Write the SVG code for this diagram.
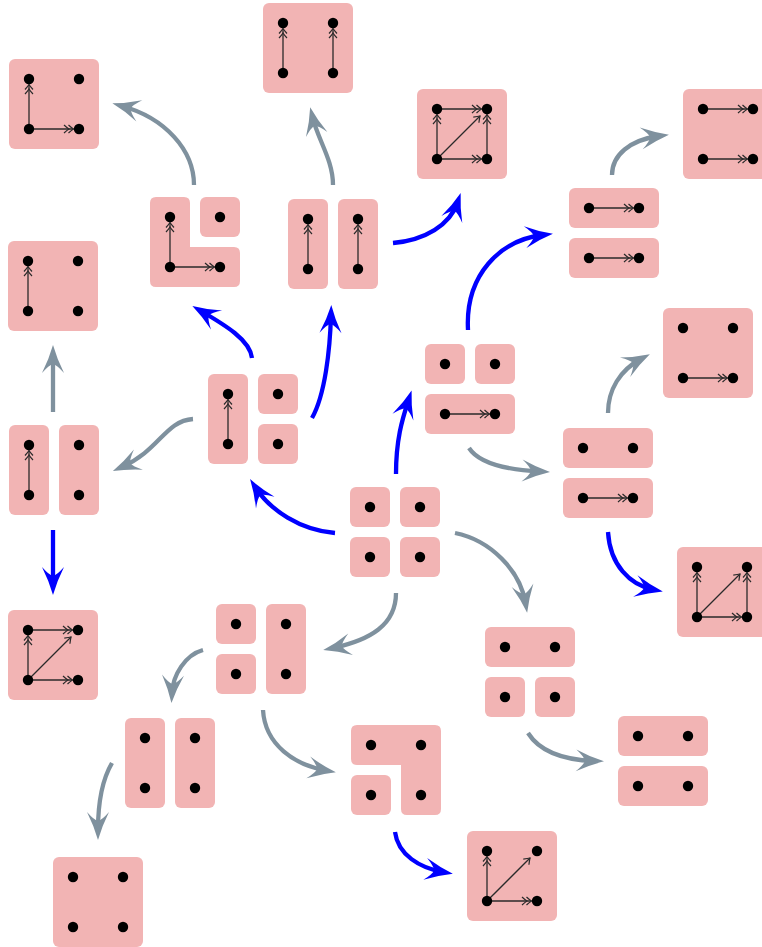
<svg xmlns="http://www.w3.org/2000/svg" xmlns:xlink="http://www.w3.org/1999/xlink" width="762" height="947" viewBox="0 0 762 947">
<style>
.p{fill:#f2b4b4}
.d{fill:#000}
.e{fill:none;stroke:#2a2a2a;stroke-width:1.3}
.dbl{marker-end:url(#dbl)}
.sgl{marker-end:url(#sgl)}
.g{fill:none;stroke:#7f919e;stroke-width:4.3;marker-end:url(#hg)}
.b{fill:none;stroke:#0000ff;stroke-width:4.3;marker-end:url(#hb)}
</style>
<defs>
<marker id="dbl" markerUnits="userSpaceOnUse" viewBox="-12 -6 14 12" markerWidth="14" markerHeight="12" refX="0" refY="0" orient="auto" overflow="visible">
<path d="M-5,-4 Q-2,-1.2 0,0 Q-2,1.2 -5,4 M-9.5,-4 Q-6.5,-1.2 -4.5,0 Q-6.5,1.2 -9.5,4" fill="none" stroke="#2a2a2a" stroke-width="1.2"/>
</marker>
<marker id="sgl" markerUnits="userSpaceOnUse" viewBox="-12 -6 14 12" markerWidth="14" markerHeight="12" refX="0" refY="0" orient="auto" overflow="visible">
<path d="M-5.5,-4 Q-2,-1.2 0,0 Q-2,1.2 -5.5,4" fill="none" stroke="#2a2a2a" stroke-width="1.2"/>
</marker>
<marker id="hg" markerUnits="userSpaceOnUse" viewBox="-24 -14 38 28" markerWidth="38" markerHeight="28" refX="0" refY="0" orient="auto" overflow="visible">
<path d="M10,0 Q-4,-4 -18,-11 Q-10,-4 -9,0 Q-10,4 -18,11 Q-4,4 10,0 Z" fill="#7f919e"/>
</marker>
<marker id="hb" markerUnits="userSpaceOnUse" viewBox="-24 -14 38 28" markerWidth="38" markerHeight="28" refX="0" refY="0" orient="auto" overflow="visible">
<path d="M10,0 Q-4,-4 -18,-11 Q-10,-4 -9,0 Q-10,4 -18,11 Q-4,4 10,0 Z" fill="#0000ff"/>
</marker>
<g id="dots">
<circle class="d" cx="20" cy="20" r="5.2"/>
<circle class="d" cx="70" cy="20" r="5.2"/>
<circle class="d" cx="20" cy="70" r="5.2"/>
<circle class="d" cx="70" cy="70" r="5.2"/>
</g>
</defs>

<g id="connectors">
<path class="g" d="M194,185 C194,150 165,118 122,106"/>
<path class="g" d="M333,185 C333,160 318,140 312.5,117"/>
<path class="g" d="M193,419 C165,421 160,450 122,467"/>
<path class="g" d="M53,412 L53,355"/>
<path class="g" d="M612,175 C612,155 630,140 659,136"/>
<path class="g" d="M608,413 C608,390 620,370 641,359"/>
<path class="g" d="M469,448 C480,465 510,470 540,471.5"/>
<path class="g" d="M455,533 C490,540 520,570 525.5,603"/>
<path class="g" d="M396,593 C396,625 370,640 333,648"/>
<path class="g" d="M203,650 C185,655 173,675 172,693"/>
<path class="g" d="M263,710 C265,745 295,765 326,770.5"/>
<path class="g" d="M112,763 C102,780 98,805 98,830"/>
<path class="g" d="M528,733 C540,752 565,760 594,761"/>
<path class="b" d="M335,533 C300,530 270,510 255.5,487.5"/>
<path class="b" d="M396,474 C396,440 402,420 408.5,400"/>
<path class="b" d="M312,418 C325,395 330,350 331,315"/>
<path class="b" d="M252,358 C250,340 225,325 201,311"/>
<path class="b" d="M393,243 C425,240 450,225 457.5,202.5"/>
<path class="b" d="M468,330 C465,275 500,240 543,235"/>
<path class="b" d="M53,530 L53,585"/>
<path class="b" d="M608,532 C610,565 630,585 653,589.5"/>
<path class="b" d="M395,832 C398,855 420,868 443,872"/>
</g>

<g id="n1" transform="translate(350,487)">
<rect class="p" x="0" y="0" width="40" height="40" rx="6"/><rect class="p" x="50" y="0" width="40" height="40" rx="6"/>
<rect class="p" x="0" y="50" width="40" height="40" rx="6"/><rect class="p" x="50" y="50" width="40" height="40" rx="6"/>
<use href="#dots"/>
</g>
<g id="n2" transform="translate(425,344)">
<rect class="p" x="0" y="0" width="40" height="40" rx="6"/><rect class="p" x="50" y="0" width="40" height="40" rx="6"/>
<rect class="p" x="0" y="50" width="90" height="40" rx="6"/>
<path class="e dbl" d="M20,70 H64.5"/>
<use href="#dots"/>
</g>
<g id="n3" transform="translate(563,428)">
<rect class="p" x="0" y="0" width="90" height="40" rx="6"/><rect class="p" x="0" y="50" width="90" height="40" rx="6"/>
<path class="e dbl" d="M20,70 H64.5"/>
<use href="#dots"/>
</g>
<g id="n4" transform="translate(569,188)">
<rect class="p" x="0" y="0" width="90" height="40" rx="6"/><rect class="p" x="0" y="50" width="90" height="40" rx="6"/>
<path class="e dbl" d="M20,20 H64.5"/><path class="e dbl" d="M20,70 H64.5"/>
<use href="#dots"/>
</g>
<g id="n5" transform="translate(683,89)">
<rect class="p" x="0" y="0" width="90" height="90" rx="6"/>
<path class="e dbl" d="M20,20 H64.5"/><path class="e dbl" d="M20,70 H64.5"/>
<use href="#dots"/>
</g>
<g id="n6" transform="translate(663,308)">
<rect class="p" x="0" y="0" width="90" height="90" rx="6"/>
<path class="e dbl" d="M20,70 H64.5"/>
<use href="#dots"/>
</g>
<g id="n7" transform="translate(677,547)">
<rect class="p" x="0" y="0" width="90" height="90" rx="6"/>
<path class="e dbl" d="M20,70 V25.5"/><path class="e dbl" d="M70,70 V25.5"/><path class="e dbl" d="M20,70 H64.5"/><path class="e sgl" d="M20,70 L63,27"/>
<use href="#dots"/>
</g>
<g id="n8" transform="translate(485,627)">
<rect class="p" x="0" y="0" width="90" height="40" rx="6"/>
<rect class="p" x="0" y="50" width="40" height="40" rx="6"/><rect class="p" x="50" y="50" width="40" height="40" rx="6"/>
<use href="#dots"/>
</g>
<g id="n9" transform="translate(618,716)">
<rect class="p" x="0" y="0" width="90" height="40" rx="6"/><rect class="p" x="0" y="50" width="90" height="40" rx="6"/>
<use href="#dots"/>
</g>
<g id="n10" transform="translate(467,831)">
<rect class="p" x="0" y="0" width="90" height="90" rx="6"/>
<path class="e dbl" d="M20,70 V25.5"/><path class="e dbl" d="M20,70 H64.5"/><path class="e sgl" d="M20,70 L63,27"/>
<use href="#dots"/>
</g>
<g id="n11" transform="translate(351,725)">
<path class="p" d="M6,0 H84 Q90,0 90,6 V84 Q90,90 84,90 H56 Q50,90 50,84 V40 H6 Q0,40 0,34 V6 Q0,0 6,0 Z"/>
<rect class="p" x="0" y="50" width="40" height="40" rx="6"/>
<use href="#dots"/>
</g>
<g id="n12" transform="translate(216,604)">
<rect class="p" x="0" y="0" width="40" height="40" rx="6"/><rect class="p" x="0" y="50" width="40" height="40" rx="6"/>
<rect class="p" x="50" y="0" width="40" height="90" rx="6"/>
<use href="#dots"/>
</g>
<g id="n13" transform="translate(125,718)">
<rect class="p" x="0" y="0" width="40" height="90" rx="6"/><rect class="p" x="50" y="0" width="40" height="90" rx="6"/>
<use href="#dots"/>
</g>
<g id="n14" transform="translate(53,857)">
<rect class="p" x="0" y="0" width="90" height="90" rx="6"/>
<use href="#dots"/>
</g>
<g id="n15" transform="translate(8,610)">
<rect class="p" x="0" y="0" width="90" height="90" rx="6"/>
<path class="e dbl" d="M20,20 H64.5"/><path class="e dbl" d="M20,70 V25.5"/><path class="e dbl" d="M20,70 H64.5"/><path class="e sgl" d="M20,70 L63,27"/>
<use href="#dots"/>
</g>
<g id="n16" transform="translate(9,425)">
<rect class="p" x="0" y="0" width="40" height="90" rx="6"/><rect class="p" x="50" y="0" width="40" height="90" rx="6"/>
<path class="e dbl" d="M20,70 V25.5"/>
<use href="#dots"/>
</g>
<g id="n17" transform="translate(208,374)">
<rect class="p" x="0" y="0" width="40" height="90" rx="6"/>
<rect class="p" x="50" y="0" width="40" height="40" rx="6"/><rect class="p" x="50" y="50" width="40" height="40" rx="6"/>
<path class="e dbl" d="M20,70 V25.5"/>
<use href="#dots"/>
</g>
<g id="n18" transform="translate(8,241)">
<rect class="p" x="0" y="0" width="90" height="90" rx="6"/>
<path class="e dbl" d="M20,70 V25.5"/>
<use href="#dots"/>
</g>
<g id="n19" transform="translate(9,59)">
<rect class="p" x="0" y="0" width="90" height="90" rx="6"/>
<path class="e dbl" d="M20,70 V25.5"/><path class="e dbl" d="M20,70 H64.5"/>
<use href="#dots"/>
</g>
<g id="n20" transform="translate(150,197)">
<path class="p" d="M6,0 H34 Q40,0 40,6 V50 H84 Q90,50 90,56 V84 Q90,90 84,90 H6 Q0,90 0,84 V6 Q0,0 6,0 Z"/>
<rect class="p" x="50" y="0" width="40" height="40" rx="6"/>
<path class="e dbl" d="M20,70 V25.5"/><path class="e dbl" d="M20,70 H64.5"/>
<use href="#dots"/>
</g>
<g id="n21" transform="translate(288,199)">
<rect class="p" x="0" y="0" width="40" height="90" rx="6"/><rect class="p" x="50" y="0" width="40" height="90" rx="6"/>
<path class="e dbl" d="M20,70 V25.5"/><path class="e dbl" d="M70,70 V25.5"/>
<use href="#dots"/>
</g>
<g id="n22" transform="translate(263,3)">
<rect class="p" x="0" y="0" width="90" height="90" rx="6"/>
<path class="e dbl" d="M20,70 V25.5"/><path class="e dbl" d="M70,70 V25.5"/>
<use href="#dots"/>
</g>
<g id="n23" transform="translate(417,89)">
<rect class="p" x="0" y="0" width="90" height="90" rx="6"/>
<path class="e dbl" d="M20,20 H64.5"/><path class="e dbl" d="M20,70 V25.5"/><path class="e dbl" d="M70,70 V25.5"/><path class="e dbl" d="M20,70 H64.5"/><path class="e sgl" d="M20,70 L63,27"/>
<use href="#dots"/>
</g>
</svg>
